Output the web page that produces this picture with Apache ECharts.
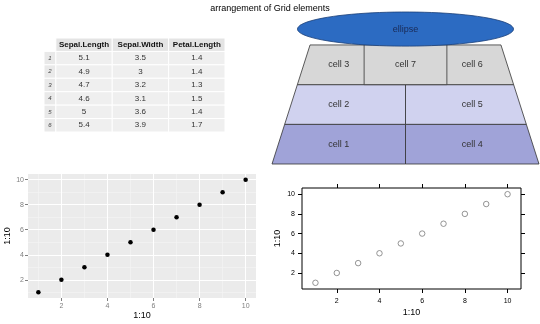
<!DOCTYPE html>
<html><head><meta charset="utf-8">
<script src="https://cdn.jsdelivr.net/npm/echarts@6/dist/echarts.min.js"></script>
<style>html,body{margin:0;padding:0;background:#fff}#c{width:540px;height:324px}</style>
</head><body><div id="c"></div>
<script>
// ---------- data ----------
const titleText = 'arrangement of Grid elements';
// table (first rows of iris)
const tableColumns = ['Sepal.Length', 'Sepal.Width', 'Petal.Length'];
const tableRowNames = ['1', '2', '3', '4', '5', '6'];
const sepalLength = [5.1, 4.9, 4.7, 4.6, 5, 5.4];
const sepalWidth = [3.5, 3, 3.2, 3.1, 3.6, 3.9];
const petalLength = [1.4, 1.4, 1.3, 1.5, 1.4, 1.7];
// trapezoid layout cells: label, row (0 = bottom), horizontal span (-1..1 = full width)
const cellLabels = ['cell 1', 'cell 2', 'cell 3', 'cell 4', 'cell 5', 'cell 6', 'cell 7'];
const cellRows = [0, 1, 2, 0, 1, 2, 2];
const cellFrom = [-1, -1, -1, 0, 0, 0, -0.31];
const cellTo = [0, 0, 0, 1, 1, 1, 0.31];
const ellipseLabel = 'ellipse';
// scatter plots: 1:10 vs 1:10
const xs = [1, 2, 3, 4, 5, 6, 7, 8, 9, 10];
const ys = [1, 2, 3, 4, 5, 6, 7, 8, 9, 10];
const tickValues = [2, 4, 6, 8, 10];
const minorValues = [1, 3, 5, 7, 9];
const axisTitle = '1:10';

// ---------- build ----------
const FONT = '"Liberation Sans", Arial, Helvetica, sans-serif';
const tableValues = [sepalLength, sepalWidth, petalLength];
const tableCells = [];
tableColumns.forEach((c, j) => tableCells.push({x0: j, x1: j + 1, row: 0, text: c, kind: 'head'}));
tableRowNames.forEach((r, i) => {
  tableCells.push({x0: -0.21, x1: 0, row: i + 1, text: r, kind: 'rowname'});
  tableValues.forEach((col, j) => tableCells.push({x0: j, x1: j + 1, row: i + 1, text: String(col[i]), kind: 'body'}));
});
const rowFill = ['#a0a3d8', '#d0d2ef', '#d7d7d7'];
const topHalf = 0.715;
const hw = y => 1 - (1 - topHalf) * y / 3;

const chart = echarts.init(document.getElementById('c'), null, {renderer: 'canvas'});

const option = {
  animation: false,
  textStyle: {fontFamily: FONT},
  title: {text: titleText, left: 'center', top: -1, textStyle: {fontSize: 9, fontWeight: 'normal', color: '#000', fontFamily: FONT}},
  grid: [
    {left: 44, top: 38, width: 181, height: 94},
    {left: 272, top: 12, width: 267, height: 152},
    {left: 28, top: 174, width: 228, height: 124, show: true, backgroundColor: '#ebebeb', borderWidth: 0},
    {left: 302, top: 188, width: 219, height: 101, show: true, borderColor: '#000', borderWidth: 1, backgroundColor: '#fff'}
  ],
  xAxis: [
    {gridIndex: 0, type: 'value', min: -0.21, max: 3, show: false},
    {gridIndex: 1, type: 'value', min: -1, max: 1, show: false},
    {gridIndex: 2, type: 'value', min: 0.55, max: 10.45,
      axisLine: {show: false},
      axisTick: {show: true, customValues: tickValues, length: 3, lineStyle: {color: '#7f7f7f'}},
      axisLabel: {customValues: tickValues, color: '#7f7f7f', fontSize: 7, margin: 5, fontFamily: FONT},
      splitLine: {show: false},
      name: axisTitle, nameLocation: 'middle', nameGap: 11, nameTextStyle: {fontSize: 9, color: '#000', fontFamily: FONT}},
    {gridIndex: 3, type: 'value', min: 0.37, max: 10.63, position: 'bottom',
      axisLine: {show: false},
      axisTick: {show: true, customValues: tickValues, length: 4, lineStyle: {color: '#000'}},
      axisLabel: {customValues: tickValues, color: '#000', fontSize: 7, margin: 9, fontFamily: FONT},
      splitLine: {show: false},
      name: axisTitle, nameLocation: 'middle', nameGap: 19, nameTextStyle: {fontSize: 9, color: '#000', fontFamily: FONT}},
    {gridIndex: 3, type: 'value', min: 0.37, max: 10.63, position: 'top',
      axisLine: {show: false},
      axisTick: {show: true, customValues: tickValues, length: 4, lineStyle: {color: '#000'}},
      axisLabel: {show: false}, splitLine: {show: false}}
  ],
  yAxis: [
    {gridIndex: 0, type: 'value', min: 0, max: 7, inverse: true, show: false},
    {gridIndex: 1, type: 'value', min: 0, max: 3.83, show: false},
    {gridIndex: 2, type: 'value', min: 0.55, max: 10.45,
      axisLine: {show: false},
      axisTick: {show: true, customValues: tickValues, length: 3, lineStyle: {color: '#7f7f7f'}},
      axisLabel: {customValues: tickValues, color: '#7f7f7f', fontSize: 7, margin: 4, fontFamily: FONT},
      splitLine: {show: false},
      name: axisTitle, nameLocation: 'middle', nameGap: 13, nameTextStyle: {fontSize: 9, color: '#000', fontFamily: FONT}},
    {gridIndex: 3, type: 'value', min: 0.37, max: 10.63, position: 'left',
      axisLine: {show: false},
      axisTick: {show: true, customValues: tickValues, length: 4, lineStyle: {color: '#000'}},
      axisLabel: {customValues: tickValues, color: '#000', fontSize: 7, margin: 7, fontFamily: FONT},
      splitLine: {show: false},
      name: axisTitle, nameLocation: 'middle', nameGap: 20, nameTextStyle: {fontSize: 9, color: '#000', fontFamily: FONT}},
    {gridIndex: 3, type: 'value', min: 0.37, max: 10.63, position: 'right',
      axisLine: {show: false},
      axisTick: {show: true, customValues: tickValues, length: 4, lineStyle: {color: '#000'}},
      axisLabel: {show: false}, splitLine: {show: false}}
  ],
  series: [
    // table
    {type: 'custom', xAxisIndex: 0, yAxisIndex: 0, silent: true,
      data: tableCells.map(c => [c.x0, c.row]),
      renderItem: (params, api) => {
        const c = tableCells[params.dataIndex];
        const p0 = api.coord([c.x0, c.row]);
        const p1 = api.coord([c.x1, c.row + 1]);
        const fill = c.kind === 'head' ? '#e4e4e4' : (c.kind === 'rowname' ? '#e9e9e9' : '#efefef');
        const ts = c.kind === 'head'
          ? {fontSize: 8, fontWeight: 'bold', fill: '#111'}
          : (c.kind === 'rowname' ? {fontSize: 6, fontStyle: 'italic', fill: '#444'} : {fontSize: 8, fill: '#333'});
        return {type: 'group', children: [
          {type: 'rect', shape: {x: p0[0], y: p0[1], width: p1[0] - p0[0], height: p1[1] - p0[1]},
            style: {fill: fill, stroke: '#fff', lineWidth: 1}},
          {type: 'text', x: (p0[0] + p1[0]) / 2, y: (p0[1] + p1[1]) / 2,
            style: Object.assign({text: c.text, textAlign: 'center', textVerticalAlign: 'middle', fontFamily: FONT}, ts)}
        ]};
      }},
    // trapezoid cells
    {type: 'custom', xAxisIndex: 1, yAxisIndex: 1, silent: true, clip: false,
      data: cellLabels.map((l, i) => [(cellFrom[i] + cellTo[i]) / 2, cellRows[i] + 0.5]),
      renderItem: (params, api) => {
        const i = params.dataIndex;
        const r = cellRows[i], a = cellFrom[i], b = cellTo[i];
        const lx = y => (a <= -1 ? -hw(y) : a);
        const rx = y => (b >= 1 ? hw(y) : b);
        const pts = [[lx(r), r], [rx(r), r], [rx(r + 1), r + 1], [lx(r + 1), r + 1]].map(p => api.coord(p));
        const c = api.coord([(a + b) / 2, r + 0.5]);
        return {type: 'group', children: [
          {type: 'polygon', shape: {points: pts}, style: {fill: rowFill[r], stroke: '#333', lineWidth: 0.8}},
          {type: 'text', x: c[0], y: c[1], style: {text: cellLabels[i], textAlign: 'center', textVerticalAlign: 'middle', fontSize: 9, fill: '#333', fontFamily: FONT}}
        ]};
      }},
    // ellipse
    {type: 'custom', xAxisIndex: 1, yAxisIndex: 1, silent: true, clip: false,
      data: [[0, 3.40]],
      renderItem: (params, api) => {
        const cx = api.value(0), cy = api.value(1);
        const pts = [];
        for (let k = 0; k < 90; k++) {
          const t = k / 90 * Math.PI * 2;
          pts.push(api.coord([cx + 0.809 * Math.cos(t), cy + 0.43 * Math.sin(t)]));
        }
        const c = api.coord([cx, cy]);
        return {type: 'group', children: [
          {type: 'polygon', shape: {points: pts}, style: {fill: '#2c6bc2', stroke: '#1b3f77', lineWidth: 0.8}},
          {type: 'text', x: c[0], y: c[1], style: {text: ellipseLabel, textAlign: 'center', textVerticalAlign: 'middle', fontSize: 9, fill: '#1a2a55', fontFamily: FONT}}
        ]};
      }},
    // ggplot grid lines
    {type: 'line', xAxisIndex: 2, yAxisIndex: 2, data: [], silent: true, z: 1,
      markLine: {silent: true, symbol: ['none', 'none'], label: {show: false}, animation: false,
        lineStyle: {color: '#f5f5f5', width: 0.6, type: 'solid'},
        data: minorValues.map(v => ({xAxis: v})).concat(minorValues.map(v => ({yAxis: v})))}},
    {type: 'line', xAxisIndex: 2, yAxisIndex: 2, data: [], silent: true, z: 1,
      markLine: {silent: true, symbol: ['none', 'none'], label: {show: false}, animation: false,
        lineStyle: {color: '#ffffff', width: 1.1, type: 'solid'},
        data: tickValues.map(v => ({xAxis: v})).concat(tickValues.map(v => ({yAxis: v})))}},
    // ggplot points
    {type: 'scatter', xAxisIndex: 2, yAxisIndex: 2, silent: true, z: 10,
      data: xs.map((x, i) => [x, ys[i]]), symbol: 'circle', symbolSize: 4.5, itemStyle: {color: '#000', opacity: 1}},
    // lattice points
    {type: 'scatter', xAxisIndex: 3, yAxisIndex: 3, silent: true, z: 10,
      data: xs.map((x, i) => [x, ys[i]]), symbol: 'circle', symbolSize: 5.5,
      itemStyle: {color: 'rgba(255,255,255,0)', borderColor: '#7a7a7a', borderWidth: 0.8, opacity: 1}}
  ]
};
chart.setOption(option);
</script></body></html>
